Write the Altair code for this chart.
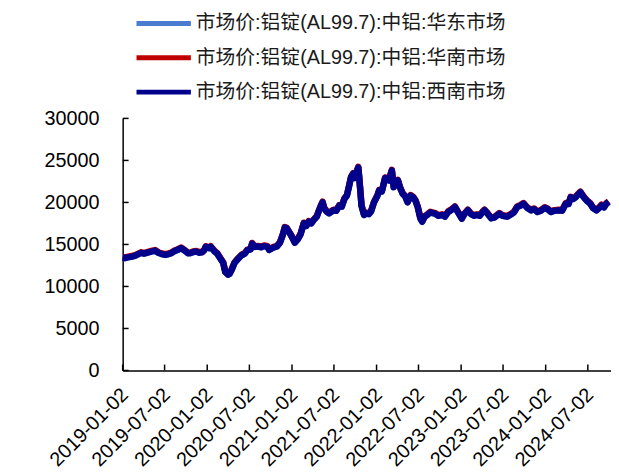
import altair as alt
import pandas as pd

dates = [
    "2019-01-02", "2019-01-11", "2019-01-22", "2019-02-11", "2019-02-25", "2019-03-08", "2019-03-22",
    "2019-04-04", "2019-04-18", "2019-05-06", "2019-05-22", "2019-06-05", "2019-06-20", "2019-07-05",
    "2019-07-19", "2019-07-31", "2019-08-14", "2019-08-28", "2019-09-11", "2019-09-25", "2019-10-11",
    "2019-10-21", "2019-11-04", "2019-11-15", "2019-11-29", "2019-12-10", "2019-12-20", "2019-12-27",
    "2020-01-10", "2020-01-17", "2020-02-03", "2020-02-14", "2020-02-28", "2020-03-11", "2020-03-20",
    "2020-04-01", "2020-04-08", "2020-04-17", "2020-04-29", "2020-05-15", "2020-05-29", "2020-06-12",
    "2020-06-23", "2020-07-07", "2020-07-14", "2020-07-24", "2020-08-07", "2020-08-21", "2020-09-04",
    "2020-09-18", "2020-09-25", "2020-10-12", "2020-10-29", "2020-11-11", "2020-11-23", "2020-12-02",
    "2020-12-10", "2020-12-24", "2021-01-05", "2021-01-14", "2021-01-27", "2021-02-08", "2021-02-22",
    "2021-03-05", "2021-03-15", "2021-03-26", "2021-04-06", "2021-04-19", "2021-04-27", "2021-05-07",
    "2021-05-14", "2021-05-21", "2021-05-31", "2021-06-11", "2021-06-30", "2021-07-12", "2021-07-25",
    "2021-08-05", "2021-08-16", "2021-08-27", "2021-09-06", "2021-09-14", "2021-09-23", "2021-09-30",
    "2021-10-08", "2021-10-15", "2021-10-19", "2021-10-25", "2021-10-29", "2021-11-09", "2021-11-18",
    "2021-11-30", "2021-12-09", "2021-12-22", "2022-01-06", "2022-01-13", "2022-01-25", "2022-02-08",
    "2022-02-24", "2022-03-09", "2022-03-17", "2022-03-25", "2022-04-04", "2022-04-14", "2022-04-25",
    "2022-05-06", "2022-05-16", "2022-05-29", "2022-06-09", "2022-06-19", "2022-06-29", "2022-07-10",
    "2022-07-18", "2022-07-29", "2022-08-09", "2022-08-22", "2022-09-12", "2022-09-26", "2022-10-12",
    "2022-10-24", "2022-11-07", "2022-11-21", "2022-12-06", "2022-12-19", "2023-01-05", "2023-01-16",
    "2023-01-31", "2023-02-14", "2023-02-27", "2023-03-10", "2023-03-23", "2023-04-05", "2023-04-13",
    "2023-04-25", "2023-05-12", "2023-05-26", "2023-06-16", "2023-06-30", "2023-07-21", "2023-08-07",
    "2023-08-18", "2023-09-01", "2023-09-15", "2023-09-28", "2023-10-16", "2023-10-31", "2023-11-13",
    "2023-11-27", "2023-12-12", "2023-12-29", "2024-01-10", "2024-01-25", "2024-02-08", "2024-02-28",
    "2024-03-13", "2024-03-29", "2024-04-10", "2024-04-19", "2024-04-30", "2024-05-10", "2024-05-20",
    "2024-05-31", "2024-06-12", "2024-06-21", "2024-07-01", "2024-07-12", "2024-07-25", "2024-08-08",
    "2024-08-19", "2024-08-30", "2024-09-10", "2024-09-20", "2024-09-30",
]

huadong = [
    13400, 13350, 13450, 13550, 13650, 13800, 14000,
    13900, 14000, 14150, 14250, 14000, 13850, 13750,
    13850, 13950, 14200, 14350, 14550, 14300, 13950,
    13950, 14100, 14150, 14000, 14050, 14300, 14700,
    14550, 14700, 14150, 13900, 13300, 12800, 11700,
    11400, 11500, 12000, 12800, 13300, 13700, 13900,
    14300, 14400, 15100, 14700, 14750, 14650, 14800,
    14700, 14350, 14600, 14750, 15200, 16100, 17000,
    16900, 16300, 15700, 15200, 15600, 16200, 17500,
    17200, 17700, 17500, 17900, 18300, 18900, 19600,
    20000, 19300, 18900, 18700, 19050, 19000, 19600,
    19500, 20400, 20800, 22000, 23000, 23400, 22900,
    23600, 24150, 23000, 21000, 19600, 18500, 18700,
    18600, 18900, 20000, 20800, 21400, 21300, 22900,
    22600, 23800, 21800, 22300, 22600, 21700, 21000,
    20700, 20000, 20800, 20600, 20200, 19400, 18100,
    17700, 18300, 18500, 18800, 18650, 18400, 18500,
    18300, 18850, 19100, 19450, 18850, 18050, 18600,
    19050, 18600, 18400, 18500, 18400, 18850, 19050,
    18700, 18100, 18200, 18650, 18400, 18300, 18600,
    18800, 19450, 19600, 19850, 19300, 19050, 19200,
    18850, 19000, 19350, 19200, 18850, 19000, 19050,
    19000, 19850, 19800, 20600, 20400, 20600, 20900,
    21200, 20700, 20400, 20100, 19850, 19300, 19050,
    19300, 19650, 19400, 19850, 20050,
]

huanan = [
    13480, 13430, 13520, 13640, 13730, 13880, 14070,
    13990, 14080, 14230, 14340, 14080, 13930, 13840,
    13930, 14030, 14290, 14430, 14640, 14380, 14030,
    14040, 14180, 14230, 14090, 14130, 14380, 14790,
    14630, 14790, 14230, 13990, 13380, 12880, 11790,
    11480, 11590, 12080, 12880, 13390, 13780, 13980,
    14390, 14480, 15180, 14790, 14830, 14740, 14880,
    14790, 14430, 14680, 14840, 15280, 16190, 17080,
    16990, 16380, 15790, 15280, 15690, 16280, 17590,
    17280, 17790, 17580, 17990, 18380, 18990, 19680,
    20090, 19380, 18990, 18780, 19140, 19080, 19690,
    19580, 20490, 20880, 22090, 23080, 23490, 22980,
    23690, 24230, 23090, 21080, 19690, 18580, 18790,
    18680, 18990, 20080, 20890, 21480, 21390, 22980,
    22690, 23880, 21890, 22380, 22690, 21780, 21090,
    20780, 20090, 20880, 20690, 20280, 19490, 18180,
    17790, 18380, 18590, 18880, 18740, 18480, 18590,
    18380, 18940, 19180, 19540, 18930, 18140, 18680,
    19140, 18680, 18490, 18580, 18490, 18930, 19140,
    18780, 18190, 18280, 18740, 18480, 18390, 18680,
    18890, 19530, 19690, 19930, 19390, 19130, 19290,
    18930, 19090, 19430, 19290, 18930, 19090, 19130,
    19090, 19930, 19890, 20680, 20490, 20680, 20990,
    21280, 20790, 20480, 20190, 19930, 19390, 19130,
    19390, 19730, 19490, 19930, 20140,
]

xinan = [
    13420, 13380, 13470, 13560, 13670, 13810, 14010,
    13920, 14020, 14160, 14270, 14010, 13860, 13770,
    13860, 13970, 14210, 14360, 14570, 14310, 13960,
    13970, 14110, 14160, 14020, 14060, 14310, 14720,
    14560, 14710, 14160, 13920, 13310, 12810, 11720,
    11410, 11520, 12010, 12810, 13320, 13710, 13910,
    14320, 14410, 15110, 14720, 14760, 14670, 14810,
    14720, 14360, 14610, 14770, 15210, 16120, 17010,
    16920, 16310, 15720, 15210, 15620, 16210, 17520,
    17210, 17720, 17510, 17920, 18310, 18920, 19610,
    20020, 19310, 18920, 18710, 19070, 19010, 19620,
    19510, 20420, 20810, 22020, 23010, 23420, 22910,
    23620, 24160, 23020, 21010, 19620, 18510, 18720,
    18610, 18920, 20010, 20820, 21410, 21320, 22910,
    22620, 23810, 21820, 22310, 22620, 21710, 21020,
    20710, 20020, 20810, 20620, 20210, 19420, 18110,
    17720, 18310, 18520, 18810, 18670, 18410, 18520,
    18310, 18870, 19110, 19470, 18860, 18070, 18610,
    19070, 18610, 18420, 18510, 18420, 18860, 19070,
    18710, 18120, 18210, 18670, 18410, 18320, 18610,
    18820, 19460, 19620, 19860, 19320, 19060, 19220,
    18860, 19020, 19360, 19220, 18860, 19020, 19060,
    19020, 19860, 19820, 20610, 20420, 20610, 20920,
    21210, 20720, 20410, 20120, 19860, 19320, 19060,
    19320, 19660, 19420, 19860, 20070,
]

names = [
    "市场价:铝锭(AL99.7):中铝:华东市场",
    "市场价:铝锭(AL99.7):中铝:华南市场",
    "市场价:铝锭(AL99.7):中铝:西南市场",
]
colors = ["#4A7BD0", "#C00000", "#00008B"]

x_tick_labels = [
    "2019-01-02", "2019-07-02", "2020-01-02", "2020-07-02", "2021-01-02", "2021-07-02",
    "2022-01-02", "2022-07-02", "2023-01-02", "2023-07-02", "2024-01-02", "2024-07-02",
]
y_ticks = [0, 5000, 10000, 15000, 20000, 25000, 30000]

n = len(dates)
df = pd.DataFrame({
    "date": dates * 3,
    "value": huadong + huanan + xinan,
    "series": [names[0]] * n + [names[1]] * n + [names[2]] * n,
})

W, H = 494, 255
FONT = "Liberation Sans"


def dt(s):
    y, m, d = (int(p) for p in s.split("-"))
    return alt.DateTime(year=y, month=m, date=d, utc=True)


x_scale = alt.Scale(type="utc", domain=[dt("2019-01-02"), dt("2024-10-10")])
y_scale = alt.Scale(domain=[0, 30000], nice=False, zero=True)

x_axis = alt.Axis(
    values=[dt(s) for s in x_tick_labels], format="%Y-%m-%d", labelAngle=-45,
    labelAlign="right", labelBaseline="middle", labelFontSize=20, labelFont=FONT,
    labelColor="#000000", ticks=False, domainColor="#000000", domainWidth=1.5,
    labelPadding=21, labelOffset=2, title=None, grid=False, labelOverlap=False,
    labelFlush=False, labelBound=False,
)
y_axis = alt.Axis(
    values=y_ticks, format="d", labelFontSize=20, labelFont=FONT, labelColor="#000000",
    ticks=False, labelPadding=24, domainColor="#000000", domainWidth=1.5, title=None,
    grid=False, labelOverlap=False, labelFlush=False,
)

legend = alt.Legend(
    orient="none", legendX=11.5, legendY=-106, direction="vertical", title=None,
    symbolType="stroke", symbolSize=3025, symbolStrokeWidth=5,
    labelFontSize=20, labelFont="Liberation Sans, Noto Sans CJK SC", labelColor="#1a1a1a",
    labelLimit=700, labelOffset=2.5, symbolOffset=0, clipHeight=20, rowPadding=14.7,
    padding=0, offset=0,
)

color = alt.Color("series:N", scale=alt.Scale(domain=names, range=colors), legend=legend)

layers = []
for name in names:
    layers.append(
        alt.Chart(df)
        .transform_filter(alt.datum.series == name)
        .mark_line(strokeWidth=6.5, strokeJoin="round", strokeCap="butt")
        .encode(
            x=alt.X("date:T", scale=x_scale, axis=x_axis),
            y=alt.Y("value:Q", scale=y_scale, axis=y_axis),
            color=color,
        )
    )

y_tick_layer = alt.Chart(pd.DataFrame({"value": y_ticks})).mark_rule(
    color="#000000", strokeWidth=1.5
).encode(y=alt.Y("value:Q", scale=y_scale, axis=y_axis), x=alt.value(0), x2=alt.value(6))

x_tick_layer = alt.Chart(pd.DataFrame({"date": x_tick_labels})).mark_rule(
    color="#000000", strokeWidth=1.5
).encode(x=alt.X("date:T", scale=x_scale, axis=x_axis), y=alt.value(H), y2=alt.value(H - 6))

chart = (
    alt.layer(*layers, y_tick_layer, x_tick_layer)
    .properties(
        width=W, height=H,
        autosize=alt.AutoSizeParams(type="none"),
        padding={"left": 116, "top": 109, "right": 0, "bottom": 100},
        background="white",
    )
    .configure_view(stroke=None)
)

chart.save("out.html", embed_options={"renderer": "svg", "actions": False})
